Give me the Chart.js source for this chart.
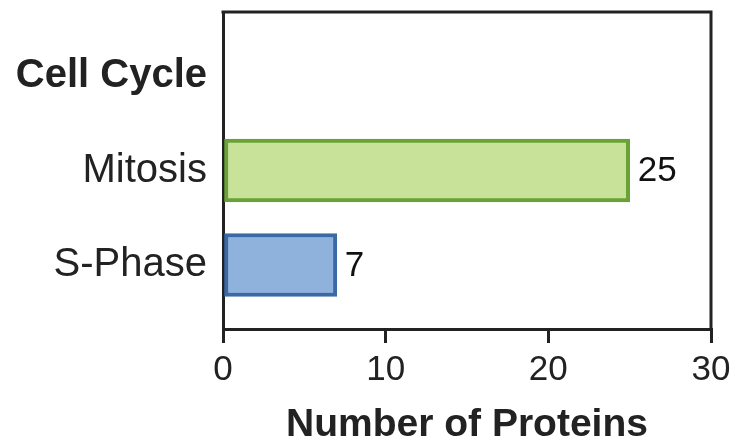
<!DOCTYPE html>
<html>
<head>
<meta charset="utf-8">
<script src="https://cdn.jsdelivr.net/npm/chart.js@4/dist/chart.umd.min.js"></script>
<style>
  html, body { margin: 0; padding: 0; background: #ffffff; }
  #wrap { width: 732px; height: 439px; }
</style>
</head>
<body>
<div id="wrap"><canvas id="chart" width="732" height="439"></canvas></div>
<script>
// Category rows, top to bottom; the first row is a group heading with no bar.
const categories = ['Cell Cycle', 'Mitosis', 'S-Phase'];
const proteinCounts = [null, 25, 7];
const xTicks = [0, 10, 20, 30];

const fillColors = [null, '#c8e29a', '#8fb2dc'];
const edgeColors = [null, '#6aa236', '#3b69a6'];

const FONT = '"Liberation Sans", Arial, Helvetica, sans-serif';
const INK = '#222222';

const rows = categories.map((name, i) => ({ y: i, x: proteinCounts[i] }));

// Closes the plot frame on the top and right sides.
const frame = {
  id: 'frame',
  afterDraw(chart) {
    const { ctx, chartArea: a } = chart;
    ctx.save();
    ctx.strokeStyle = INK;
    ctx.lineWidth = 3;
    ctx.lineCap = 'square';
    ctx.beginPath();
    ctx.moveTo(a.left, a.top);
    ctx.lineTo(a.right, a.top);
    ctx.lineTo(a.right, a.bottom);
    ctx.stroke();
    ctx.restore();
  }
};

// Writes each count just past the end of its bar.
const valueLabels = {
  id: 'valueLabels',
  afterDatasetsDraw(chart) {
    const { ctx } = chart;
    const meta = chart.getDatasetMeta(0);
    ctx.save();
    ctx.fillStyle = '#111111';
    ctx.font = '35px ' + FONT;
    ctx.textAlign = 'left';
    ctx.textBaseline = 'middle';
    meta.data.forEach((bar, i) => {
      const v = proteinCounts[i];
      if (v === null || v === undefined) return;
      ctx.fillText(String(v), bar.x + 8, bar.y + 1);
    });
    ctx.restore();
  }
};

new Chart(document.getElementById('chart'), {
  type: 'bar',
  data: {
    datasets: [{
      data: rows,
      backgroundColor: fillColors,
      borderColor: edgeColors,
      borderWidth: 4,
      borderSkipped: false,
      barThickness: 63
    }]
  },
  options: {
    indexAxis: 'y',
    responsive: false,
    animation: false,
    devicePixelRatio: 1,
    layout: { padding: { top: 12, right: 21, left: 0, bottom: 0 } },
    plugins: { legend: { display: false }, tooltip: { enabled: false } },
    scales: {
      x: {
        type: 'linear',
        position: 'bottom',
        min: xTicks[0],
        max: xTicks[xTicks.length - 1],
        afterBuildTicks(scale) {
          scale.ticks = xTicks.map(v => ({ value: v }));
        },
        afterFit(scale) {
          scale.height = 110;
          scale.paddingLeft = 0;
          scale.paddingRight = 0;
        },
        grid: {
          drawOnChartArea: false,
          drawTicks: true,
          tickLength: 14,
          lineWidth: 3,
          color: INK
        },
        border: { display: true, color: INK, width: 3 },
        ticks: {
          color: INK,
          padding: 6,
          font: { family: FONT, size: 35 }
        },
        title: {
          display: true,
          text: 'Number of Proteins',
          color: INK,
          font: { family: FONT, size: 39, weight: 'bold' },
          padding: { top: 0, bottom: -10 }
        }
      },
      y: {
        type: 'linear',
        reverse: true,
        offset: false,
        min: -0.677,
        max: categories.length - 1 + 0.677,
        afterFit(scale) {
          scale.width = 223;
          scale.paddingTop = 0;
          scale.paddingBottom = 0;
        },
        grid: { display: false, drawTicks: false },
        border: { display: true, color: INK, width: 3 },
        ticks: {
          stepSize: 1,
          autoSkip: false,
          padding: 16,
          color: INK,
          font: (c) => ({
            family: FONT,
            size: 40,
            weight: (c.tick && c.tick.value === 0) ? 'bold' : 'normal'
          }),
          callback: (value) => Number.isInteger(value) && categories[value] !== undefined ? categories[value] : ''
        }
      }
    }
  },
  plugins: [frame, valueLabels]
});
</script>
</body>
</html>
